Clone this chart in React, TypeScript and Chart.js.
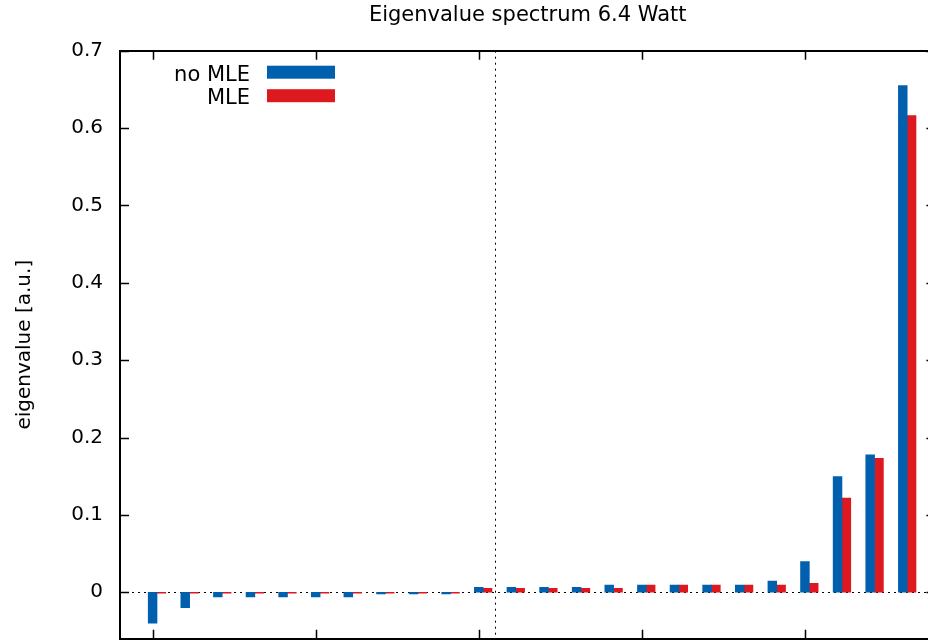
import React, { useEffect, useRef } from "react";
import { Chart, registerables } from "chart.js";

Chart.register(...registerables);

// ---- data -------------------------------------------------------------
const TITLE = "Eigenvalue spectrum 6.4 Watt";
const Y_LABEL = "eigenvalue [a.u.]";
const SERIES_NAMES = ["no MLE", "MLE"];

// eigenvalue index (sorted ascending)
const modeIndex = [
  0, 1, 2, 3, 4, 5, 6, 7, 8, 9, 10, 11, 12, 13, 14, 15, 16, 17, 18, 19, 20, 21, 22, 23,
];

const noMle = [
  -0.04, -0.02, -0.006, -0.006, -0.006, -0.006, -0.006, -0.002, -0.002, -0.002,
  0.0065, 0.0065, 0.0065, 0.0065, 0.0094, 0.0094, 0.0094, 0.0094, 0.0094, 0.0146,
  0.0396, 0.1494, 0.1775, 0.655,
];

const mle = [
  -0.001, -0.001, -0.001, -0.001, -0.001, -0.001, -0.001, -0.001, -0.001, -0.001,
  0.0052, 0.0052, 0.0052, 0.0052, 0.0052, 0.0094, 0.0094, 0.0094, 0.0094, 0.0094,
  0.0116, 0.1219, 0.1732, 0.616,
];

const X_TICKS = [0, 5, 10, 15, 20];
const Y_TICKS = [0, 0.1, 0.2, 0.3, 0.4, 0.5, 0.6, 0.7];
const X_RANGE = [-1, 24];
const Y_RANGE = [-0.06, 0.7];
const SPLIT_AT = 10.5; // boundary between negative/positive part of the spectrum

// ---- style ------------------------------------------------------------
const BLUE = "#0060ad";
const RED = "#dd181f";
const FONT = '"DejaVu Sans", sans-serif';
const CANVAS_W = 960;
const CANVAS_H = 680;
const BOX_W = 0.27; // bar width in x units
const PAIR_OFFSET = 0.27; // shift of the second series

const gnuplotFrame = {
  id: "gnuplotFrame",
  beforeDatasetsDraw(chart: any) {
    const { ctx, chartArea, scales } = chart;
    const { left, right, top, bottom } = chartArea;
    ctx.save();
    ctx.strokeStyle = "#000";
    ctx.lineWidth = 1;
    ctx.setLineDash([2, 4]);
    const y0 = Math.round(scales.y.getPixelForValue(0)) + 0.5;
    ctx.beginPath();
    ctx.moveTo(left, y0);
    ctx.lineTo(right, y0);
    ctx.stroke();
    const xs = Math.round(scales.x.getPixelForValue(SPLIT_AT)) + 0.5;
    ctx.beginPath();
    ctx.moveTo(xs, top);
    ctx.lineTo(xs, bottom);
    ctx.stroke();
    ctx.restore();
  },
  afterDraw(chart: any) {
    const { ctx, chartArea, scales } = chart;
    const { left, right, top, bottom } = chartArea;
    ctx.save();
    ctx.setLineDash([]);
    ctx.strokeStyle = "#000";

    // border box
    ctx.lineWidth = 2;
    ctx.strokeRect(Math.round(left), Math.round(top), Math.round(right - left), Math.round(bottom - top));

    // inward ticks, mirrored on all four sides
    const tl = 9;
    ctx.lineWidth = 1.5;
    ctx.beginPath();
    for (const v of Y_TICKS) {
      const py = Math.round(scales.y.getPixelForValue(v)) + 0.5;
      ctx.moveTo(left, py);
      ctx.lineTo(left + tl, py);
      ctx.moveTo(right, py);
      ctx.lineTo(right - tl, py);
    }
    for (const v of X_TICKS) {
      const px = Math.round(scales.x.getPixelForValue(v)) + 0.5;
      ctx.moveTo(px, top);
      ctx.lineTo(px, top + tl);
      ctx.moveTo(px, bottom);
      ctx.lineTo(px, bottom - tl);
    }
    ctx.stroke();

    // title
    ctx.fillStyle = "#000";
    ctx.font = `21px ${FONT}`;
    ctx.textAlign = "center";
    ctx.textBaseline = "alphabetic";
    ctx.fillText(TITLE, (left + right) / 2, 21);

    // key
    const colors = [BLUE, RED];
    ctx.font = `21px ${FONT}`;
    ctx.textAlign = "right";
    SERIES_NAMES.forEach((name, i) => {
      const rowY = top + 22 + i * 23.5;
      ctx.fillStyle = "#000";
      ctx.fillText(name, left + 130, rowY + 8);
      ctx.fillStyle = colors[i];
      ctx.fillRect(left + 147, rowY - 7, 68, 13);
    });
    ctx.restore();
  },
};

export default function App() {
  const canvasRef = useRef<HTMLCanvasElement>(null);

  useEffect(() => {
    const canvas = canvasRef.current;
    if (!canvas) return;
    const chart = new Chart(canvas, {
      type: "bar",
      data: {
        datasets: [
          {
            label: SERIES_NAMES[0],
            data: modeIndex.map((m, i) => ({ x: m, y: noMle[i] })),
            backgroundColor: BLUE,
          },
          {
            label: SERIES_NAMES[1],
            data: modeIndex.map((m, i) => ({ x: m + PAIR_OFFSET, y: mle[i] })),
            backgroundColor: RED,
          },
        ],
      },
      options: {
        animation: false,
        responsive: false,
        devicePixelRatio: 1,
        layout: {
          padding: { top: 50.7, right: CANVAS_W - 935.4, bottom: CANVAS_H - 638.7, left: 0 },
        },
        datasets: {
          bar: {
            grouped: false,
            // the smallest gap between bar centres is PAIR_OFFSET, so this gives BOX_W units
            barPercentage: BOX_W / PAIR_OFFSET,
            categoryPercentage: 1,
            borderWidth: 0,
          },
        },
        plugins: {
          legend: { display: false },
          title: { display: false },
          tooltip: { enabled: false },
        },
        scales: {
          x: {
            type: "linear",
            min: X_RANGE[0],
            max: X_RANGE[1],
            offset: false,
            grid: { display: false, drawTicks: false, offset: false },
            border: { display: false },
            ticks: { display: false },
            afterBuildTicks: (s: any) => {
              s.ticks = X_TICKS.map((v) => ({ value: v }));
            },
            afterFit: (s: any) => {
              s.height = 0;
            },
          },
          y: {
            type: "linear",
            min: Y_RANGE[0],
            max: Y_RANGE[1],
            grid: { display: false, drawTicks: false },
            border: { display: false },
            afterBuildTicks: (s: any) => {
              s.ticks = Y_TICKS.map((v) => ({ value: v }));
            },
            afterFit: (s: any) => {
              s.width = 120;
            },
            ticks: {
              padding: 17,
              color: "#000",
              font: { family: FONT, size: 20 },
              callback: (v: any) => Number(v).toFixed(1).replace(/\.0$/, ""),
            },
            title: {
              display: true,
              text: Y_LABEL,
              color: "#000",
              font: { family: FONT, size: 20 },
              padding: { top: 13, bottom: 0 },
            },
          },
        },
      },
      plugins: [gnuplotFrame],
    } as any);
    return () => chart.destroy();
  }, []);

  return (
    <div
      style={{
        position: "fixed",
        left: 0,
        top: 0,
        width: 928,
        height: 640,
        overflow: "hidden",
        background: "#fff",
      }}
    >
      <canvas
        ref={canvasRef}
        width={CANVAS_W}
        height={CANVAS_H}
        style={{ display: "block", width: CANVAS_W, height: CANVAS_H }}
      />
    </div>
  );
}
